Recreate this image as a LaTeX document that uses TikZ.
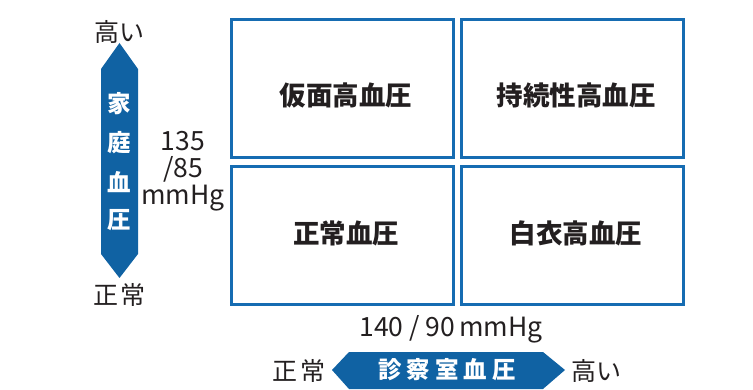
\documentclass[tikz,border=0pt]{standalone}
\usepackage{fontspec}
\setmainfont{Noto Sans CJK JP}
\usetikzlibrary{shadows}
\definecolor{arrowblue}{RGB}{16,98,163}
\definecolor{boxblue}{RGB}{22,108,178}
\definecolor{txt}{RGB}{35,31,32}
\tikzset{
  quad/.style={draw=boxblue, line width=3pt, fill=white,
    drop shadow={shadow xshift=1.5pt, shadow yshift=-1.5pt, fill=black!35, opacity=0.5}},
  qlabel/.style={font=\fontsize{26.5}{26.5}\selectfont\bfseries, text=txt},
  endlabel/.style={font=\fontsize{25}{25}\selectfont, text=txt},
  numlabel/.style={font=\fontsize{26.5}{27}\selectfont, text=txt, align=center},
  arrowtext/.style={font=\fontsize{23.5}{23.5}\selectfont\bfseries, text=white},
}
\begin{document}
\begin{tikzpicture}[x=1pt,y=-1pt]
\useasboundingbox (0,0) rectangle (753,390);
% quadrants
\draw[quad] (231,20) rectangle (453,158);
\draw[quad] (461,20) rectangle (683,158);
\draw[quad] (231,167) rectangle (453,305);
\draw[quad] (461,167) rectangle (683,305);
\node[qlabel] (q1) at (346,95) {仮面高血圧};
\node[qlabel] (q2) at (576,95) {持続性高血圧};
\node[qlabel] (q3) at (346,233) {正常血圧};
\node[qlabel] (q4) at (576,233) {白衣高血圧};
% vertical arrow
\fill[arrowblue] (119.5,43) -- (138,69) -- (138,254) -- (119.5,278) -- (101,254) -- (101,69) -- cycle;
\node[arrowtext] (v1) at (119.5,104) {家};
\node[arrowtext] (v2) at (119.5,143) {庭};
\node[arrowtext] (v3) at (119.5,182) {血};
\node[arrowtext] (v4) at (119.5,220) {圧};
\node[endlabel] (vhigh) at (119,32) {高い};
\node[endlabel] (vlow) at (119,295) {正\hspace{2pt}常};
\node[numlabel] (vnum) at (183,171) {135\\/85\\mmHg};
% horizontal arrow
\fill[arrowblue] (332,370) -- (349,352) -- (543,352) -- (565,370) -- (543,389) -- (349,389) -- cycle;
\node[arrowtext] (htext) at (447,370) {診\hspace{5pt}察\hspace{5pt}室\hspace{5pt}血\hspace{5pt}圧};
\node[endlabel] (hlow) at (299,371) {正\hspace{3pt}常};
\node[endlabel] (hhigh) at (596,371) {高い};
\node[numlabel] (hnum) at (451,329) {140 / 90\hspace{4pt}mmHg};
\end{tikzpicture}
\end{document}
